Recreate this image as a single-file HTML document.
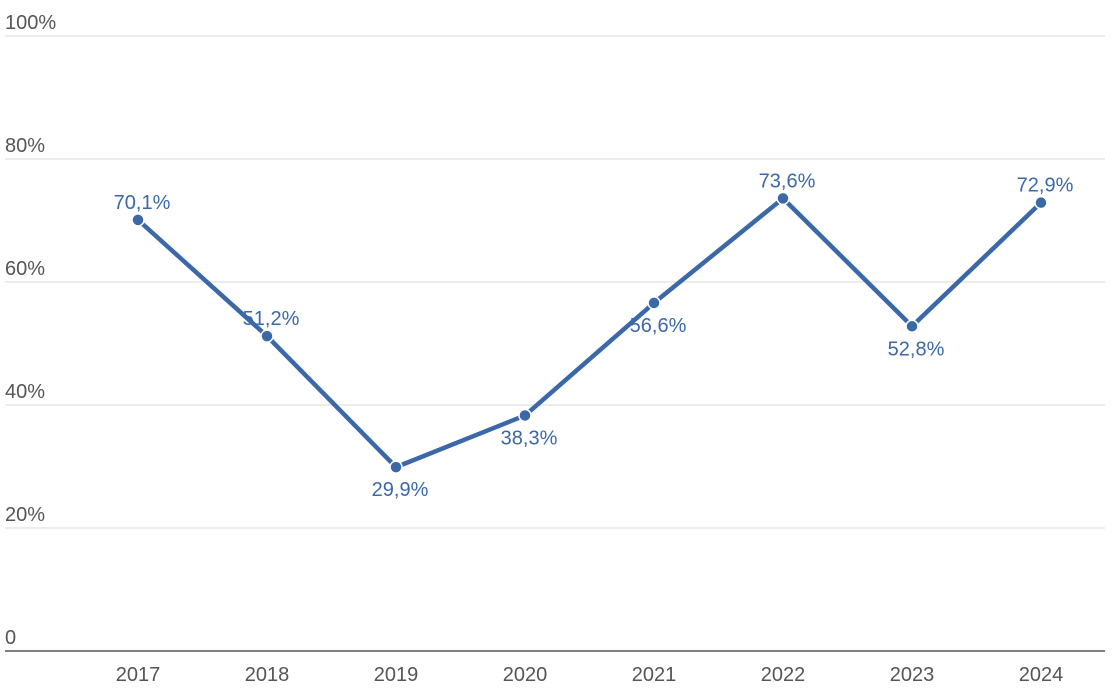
<!DOCTYPE html>
<html><head><meta charset="utf-8"><style>
html,body{margin:0;padding:0;background:#fff;}
svg{display:block;font-family:"Liberation Sans",Arial,sans-serif;}
</style></head><body>
<svg id="chart" width="1115" height="697" viewBox="0 0 1115 697" xmlns="http://www.w3.org/2000/svg">
<g id="grid"></g>
<g id="xaxis"></g>
<g id="series"></g>
</svg>
<script>
const categories = ["2017","2018","2019","2020","2021","2022","2023","2024"];
const values = [70.1, 51.2, 29.9, 38.3, 56.6, 73.6, 52.8, 72.9];
const valueLabels = ["70,1%","51,2%","29,9%","38,3%","56,6%","73,6%","52,8%","72,9%"];
const labelBelow = [false,false,true,true,true,false,true,false];
const yTicks = [0,20,40,60,80,100];
const yTickLabels = ["0","20%","40%","60%","80%","100%"];

const NS="http://www.w3.org/2000/svg";
const y0=651, pxPer=6.15, x0=138, step=129;
const yScale=v=>y0-v*pxPer;
const xScale=i=>x0+i*step;
function mk(tag,attrs,parent){const e=document.createElementNS(NS,tag);for(const k in attrs)e.setAttribute(k,attrs[k]);parent.appendChild(e);return e;}

const grid=document.getElementById('grid');
yTicks.forEach((t,i)=>{
  const y=yScale(t);
  if(t!==0){
    const l=mk('line',{x1:5,x2:1105,y1:y,y2:y,stroke:'#e6e6e6','stroke-width':1.5},grid);
    
    
  }
  const tx=mk('text',{x:5,y:y-7,'font-size':20,fill:'#555'},grid);
  tx.textContent=yTickLabels[i];
  
  
});
const xa=document.getElementById('xaxis');
const ax=mk('line',{x1:5,x2:1105,y1:y0,y2:y0,stroke:'#555','stroke-width':1.5},xa);


categories.forEach((c,i)=>{
  const t=mk('text',{x:xScale(i),y:681,'font-size':20,fill:'#555','text-anchor':'middle'},xa);
  t.textContent=c;
  
  
});
const s=document.getElementById('series');
const pts=values.map((v,i)=>xScale(i)+','+yScale(v)).join(' ');
const pl=mk('polyline',{points:pts,fill:'none',stroke:'#3a68a8','stroke-width':4.5,'stroke-linejoin':'round'},s);


values.forEach((v,i)=>{
  const c=mk('circle',{cx:xScale(i),cy:yScale(v),r:6,fill:'#3a68a8',stroke:'#fff','stroke-width':1.5},s);
  
  
  const ty=labelBelow[i]?yScale(v)+29:yScale(v)-11;
  const t=mk('text',{x:xScale(i)+4,y:ty,'font-size':20,fill:'#3a68a8','text-anchor':'middle'},s);
  t.textContent=valueLabels[i];
  
  
});
</script>
</body></html>
